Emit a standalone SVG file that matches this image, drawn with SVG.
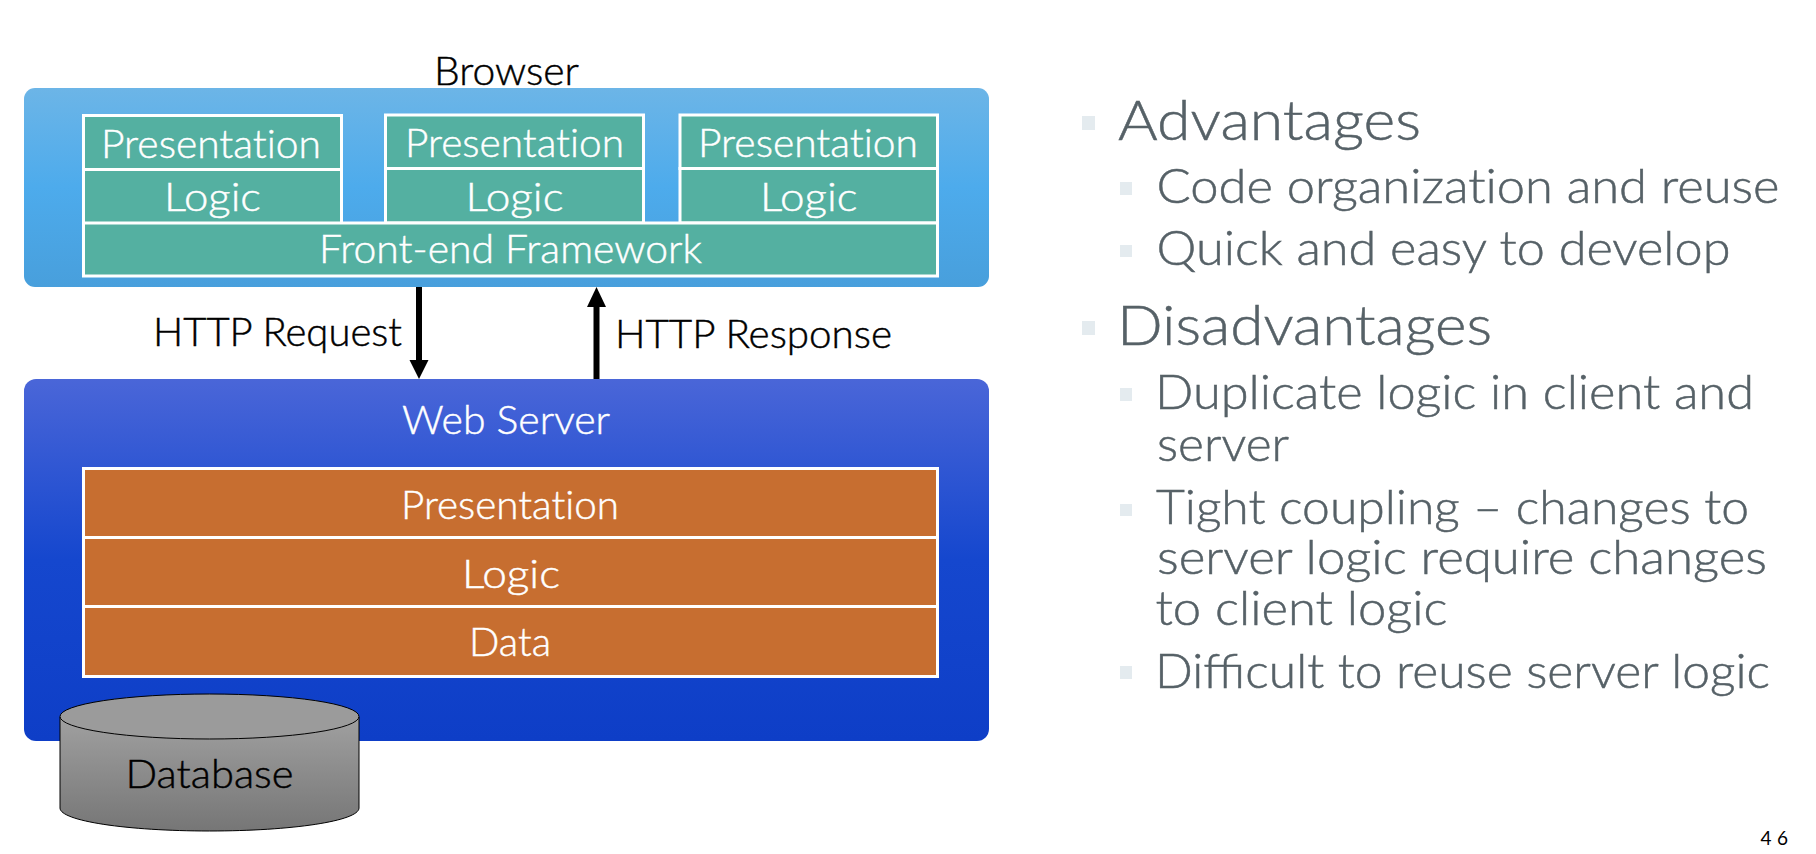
<svg xmlns="http://www.w3.org/2000/svg" width="1816" height="854" viewBox="0 0 1816 854">
<style>
text{font-family:"Lato","Noto Sans","Liberation Sans",sans-serif;font-variant-ligatures:none}
.w{fill:#fff;stroke:#fff;stroke-width:.45px;font-size:39px;font-weight:300}
.k{fill:#000;stroke:#000;stroke-width:.45px;font-size:39px;font-weight:300}
.t{fill:#566167;stroke:#566167;stroke-width:.5px;font-weight:300}
.l1{font-size:55px}
.l2{font-size:48px}
.g{fill:#54b0a1;stroke:#fff;stroke-width:3}
.o{fill:#c76e30;stroke:#fff;stroke-width:3}
.b{fill:#e4ebef}
.c{fill:none;stroke:#000;stroke-width:6}
</style>
<defs>
<linearGradient id="gb" x1="0" y1="0" x2="0" y2="1"><stop offset="0" stop-color="#6cb5e7"/><stop offset=".5" stop-color="#4dabec"/><stop offset="1" stop-color="#489fdc"/></linearGradient>
<linearGradient id="gs" x1="0" y1="0" x2="0" y2="1"><stop offset="0" stop-color="#4a66d8"/><stop offset=".5" stop-color="#1547ce"/><stop offset="1" stop-color="#0e3ec7"/></linearGradient>
<linearGradient id="gc" x1="0" y1="0" x2="0" y2="1"><stop offset="0" stop-color="#a0a0a0"/><stop offset="1" stop-color="#767676"/></linearGradient>
</defs>
<g id="browser">
<rect x="24" y="88" width="965" height="199" rx="11" fill="url(#gb)"/>
<text class="k" x="434" y="85" textLength="145" lengthAdjust="spacingAndGlyphs">Browser</text>
</g>
<g id="browser-stack-1">
<rect class="g" x="83.500" y="115.500" width="258" height="54"/>
<rect class="g" x="83.500" y="169.500" width="258" height="54"/>
<text class="w" x="101" y="157.500" textLength="220" lengthAdjust="spacingAndGlyphs">Presentation</text>
<text class="w" x="164" y="210.500" textLength="97" lengthAdjust="spacingAndGlyphs">Logic</text>
</g>
<g id="browser-stack-2">
<rect class="g" x="385.500" y="115" width="258" height="53.500"/>
<rect class="g" x="385.500" y="168.500" width="258" height="54.500"/>
<text class="w" x="405" y="156.500" textLength="219" lengthAdjust="spacingAndGlyphs">Presentation</text>
<text class="w" x="465.500" y="210.500" textLength="98" lengthAdjust="spacingAndGlyphs">Logic</text>
</g>
<g id="browser-stack-3">
<rect class="g" x="680" y="115" width="257.500" height="53.500"/>
<rect class="g" x="680" y="168.500" width="257.500" height="54.500"/>
<text class="w" x="698" y="156.500" textLength="220" lengthAdjust="spacingAndGlyphs">Presentation</text>
<text class="w" x="760" y="210.500" textLength="97.500" lengthAdjust="spacingAndGlyphs">Logic</text>
</g>
<g id="front-end-framework">
<rect class="g" x="83.500" y="223" width="854" height="53"/>
<text class="w" x="319" y="262.500" textLength="383" lengthAdjust="spacingAndGlyphs">Front-end Framework</text>
</g>
<g id="web-server">
<rect x="24" y="379" width="965" height="362" rx="12" fill="url(#gs)"/>
<text class="w" x="402" y="433.500" textLength="208" lengthAdjust="spacingAndGlyphs">Web Server</text>
</g>
<g id="server-presentation">
<rect class="o" x="83.500" y="468.500" width="854" height="69"/>
<text class="w" x="401" y="519" textLength="218" lengthAdjust="spacingAndGlyphs">Presentation</text>
</g>
<g id="server-logic">
<rect class="o" x="83.500" y="537.500" width="854" height="69"/>
<text class="w" x="462" y="587.500" textLength="98" lengthAdjust="spacingAndGlyphs">Logic</text>
</g>
<g id="server-data">
<rect class="o" x="83.500" y="606.500" width="854" height="70"/>
<text class="w" x="469" y="656" textLength="82" lengthAdjust="spacingAndGlyphs">Data</text>
</g>
<g id="database">
<path d="M60 717V808C60 821 127 831 209.500 831S359 821 359 808V717Z" fill="url(#gc)" stroke="#000" stroke-width="1"/>
<ellipse cx="209.500" cy="716.500" rx="149.500" ry="22.500" fill="#9b9b9b" stroke="#000" stroke-width="1"/>
<text class="k" x="125.500" y="788" textLength="168" lengthAdjust="spacingAndGlyphs">Database</text>
</g>
<g id="connectors">
<line class="c" x1="419" y1="287" x2="419" y2="360"/>
<path d="M409.500 360H428.500L419 379Z"/>
<line class="c" x1="596.500" y1="379" x2="596.500" y2="306"/>
<path d="M587 307H606L596.500 287Z"/>
</g>
<g id="http-labels">
<text class="k" x="153" y="346" textLength="249" lengthAdjust="spacingAndGlyphs">HTTP Request</text>
<text class="k" x="615" y="348" textLength="277" lengthAdjust="spacingAndGlyphs">HTTP Response</text>
</g>
<g id="bullets">
<rect class="b" x="1082" y="116" width="13" height="14"/>
<rect class="b" x="1120" y="182" width="12" height="13"/>
<rect class="b" x="1120" y="245" width="12" height="12"/>
<rect class="b" x="1082" y="321" width="13" height="14"/>
<rect class="b" x="1120" y="388" width="12" height="13"/>
<rect class="b" x="1120" y="504" width="12" height="12"/>
<rect class="b" x="1120" y="666" width="12" height="13"/>
</g>
<g id="text-list">
<text class="t l1" x="1118" y="140" textLength="303" lengthAdjust="spacingAndGlyphs">Advantages</text>
<text class="t l2" x="1156.500" y="203" textLength="623" lengthAdjust="spacingAndGlyphs">Code organization and reuse</text>
<text class="t l2" x="1156.500" y="265" textLength="574" lengthAdjust="spacingAndGlyphs">Quick and easy to develop</text>
<text class="t l1" x="1117" y="345" textLength="375" lengthAdjust="spacingAndGlyphs">Disadvantages</text>
<text class="t l2" x="1155" y="409" textLength="599" lengthAdjust="spacingAndGlyphs">Duplicate logic in client and</text>
<text class="t l2" x="1157" y="461" textLength="132" lengthAdjust="spacingAndGlyphs">server</text>
<text class="t l2" x="1156" y="524" textLength="593" lengthAdjust="spacingAndGlyphs">Tight coupling – changes to</text>
<text class="t l2" x="1157" y="574" textLength="610" lengthAdjust="spacingAndGlyphs">server logic require changes</text>
<text class="t l2" x="1155.500" y="625" textLength="292" lengthAdjust="spacingAndGlyphs">to client logic</text>
<text class="t l2" x="1155" y="687.500" textLength="615" lengthAdjust="spacingAndGlyphs" style="font-variant-ligatures:normal">Difficult to reuse server logic</text>
</g>
<text x="1760.500" y="844.500" font-size="19" fill="#000" letter-spacing="5.500">46</text>
</svg>
